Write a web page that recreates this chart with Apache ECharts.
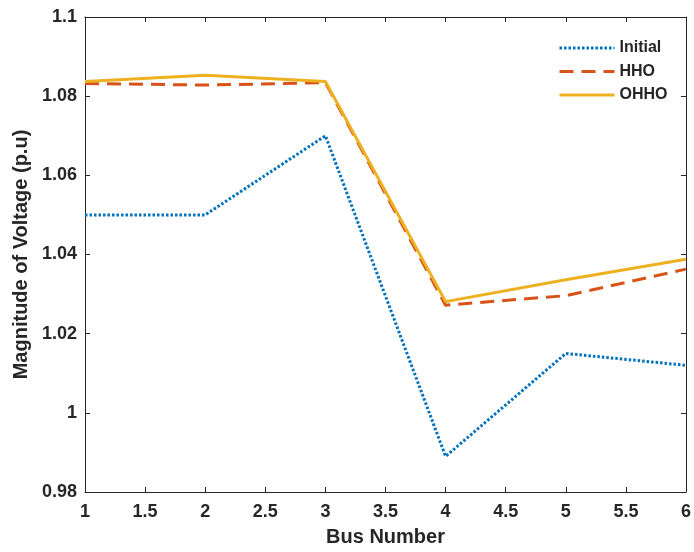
<!DOCTYPE html>
<html>
<head>
<meta charset="utf-8">
<script src="https://cdn.jsdelivr.net/npm/echarts@6/dist/echarts.min.js"></script>
<style>
  html, body { margin: 0; padding: 0; background: #fff; }
  #chart { width: 694px; height: 552px; }
</style>
</head>
<body>
<div id="chart"></div>
<script>
// bus numbers and voltage magnitudes
const busNumbers = [1, 2, 3, 4, 5, 6];
const initialV = [1.050, 1.050, 1.070, 0.989, 1.015, 1.012];
const hhoV     = [1.0832, 1.0828, 1.0834, 1.0272, 1.0296, 1.0363];
const ohhoV    = [1.0837, 1.0853, 1.0837, 1.0281, 1.0336, 1.0388];

const textColor = '#262626';
const font = 'Liberation Sans, Arial, sans-serif';

function pairs(ys) {
    return busNumbers.map((x, i) => [x, ys[i]]);
}

const chart = echarts.init(document.getElementById('chart'));

const baseAxis = {
    axisLine: { show: true, lineStyle: { color: textColor, width: 1 } },
    axisTick: { show: true, inside: true, length: 5, lineStyle: { color: textColor } },
    splitLine: { show: false }
};

chart.setOption({
    animation: false,
    backgroundColor: '#fff',
    color: ['#0072BD', '#D95319', '#EDB120'],
    grid: { left: 85, right: 6, top: 17, bottom: 60, containLabel: false },
    legend: {
        orient: 'vertical',
        left: 553,
        top: 35,
        itemWidth: 55,
        itemHeight: 16,
        itemGap: 7.5,
        itemStyle: { opacity: 0 },
        lineStyle: { width: 3 },
        textStyle: { fontFamily: font, fontWeight: 'bold', fontSize: 16, color: textColor },
        data: ['Initial', 'HHO', 'OHHO']
    },
    xAxis: [
        Object.assign({}, baseAxis, {
            type: 'value', min: 1, max: 6, interval: 0.5, position: 'bottom',
            name: 'Bus Number', nameLocation: 'middle', nameGap: 35,
            nameTextStyle: { fontFamily: font, fontWeight: 'bold', fontSize: 20, color: textColor },
            axisLabel: { fontFamily: font, fontWeight: 'bold', fontSize: 18, color: textColor, margin: 11 }
        }),
        Object.assign({}, baseAxis, {
            type: 'value', min: 1, max: 6, interval: 0.5, position: 'top',
            axisLabel: { show: false }
        })
    ],
    yAxis: [
        Object.assign({}, baseAxis, {
            type: 'value', min: 0.98, max: 1.1, interval: 0.02, position: 'left',
            name: 'Magnitude of Voltage (p.u)', nameLocation: 'middle', nameGap: 51,
            nameTextStyle: { fontFamily: font, fontWeight: 'bold', fontSize: 20, color: textColor },
            axisLabel: {
                fontFamily: font, fontWeight: 'bold', fontSize: 18, color: textColor, margin: 8,
                formatter: v => String(parseFloat(v.toFixed(2)))
            }
        }),
        Object.assign({}, baseAxis, {
            type: 'value', min: 0.98, max: 1.1, interval: 0.02, position: 'right',
            axisLabel: { show: false }
        })
    ],
    series: [
        {
            name: 'Initial', type: 'line', symbol: 'none', data: pairs(initialV),
            lineStyle: { width: 3, type: [2.5, 2] }
        },
        {
            name: 'HHO', type: 'line', symbol: 'none', data: pairs(hhoV),
            lineStyle: { width: 3, type: [14, 8] }
        },
        {
            name: 'OHHO', type: 'line', symbol: 'none', data: pairs(ohhoV),
            lineStyle: { width: 3, type: 'solid' }
        }
    ]
});
</script>
</body>
</html>
